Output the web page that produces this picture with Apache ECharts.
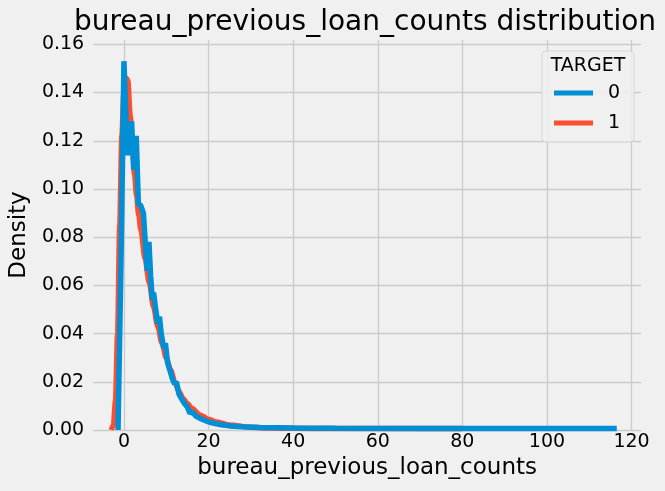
<!DOCTYPE html>
<html>
<head>
<meta charset="utf-8">
<script src="https://cdn.jsdelivr.net/npm/echarts@6/dist/echarts.min.js"></script>
<style>
  html, body { margin: 0; padding: 0; background: #f0f0f0; }
  #chart { width: 665px; height: 491px; }
</style>
</head>
<body>
<div id="chart"></div>
<script>
const xTicks = [0, 20, 40, 60, 80, 100, 120];
const yTicks = [0, 0.02, 0.04, 0.06, 0.08, 0.1, 0.12, 0.14, 0.16];

// TARGET = 0 (narrow bandwidth, jagged)
const blueX = [-1.4, -0.7, 0, 0.8, 1.8, 2.3, 2.9, 3.4, 4.0, 4.6, 5.1, 5.5, 5.9, 6.3, 6.7, 7.0, 7.5, 8.0, 8.4, 8.8,
  9.4, 9.8, 10.3, 11.0, 11.5, 12.0, 12.4, 13.0, 13.6, 14.3, 15.0, 15.6, 16.2, 17.0, 18.0, 19.5, 21.0, 23.0, 25.0,
  28.0, 32.0, 40, 50, 70, 90, 116.5];
const blueY = [0, 0.07, 0.153, 0.114, 0.128, 0.108, 0.122, 0.094, 0.093, 0.090, 0.076, 0.066, 0.078, 0.064, 0.054,
  0.057, 0.050, 0.044, 0.047, 0.040, 0.034, 0.036, 0.028, 0.024, 0.021, 0.019, 0.020, 0.015, 0.013, 0.011, 0.0095,
  0.0070, 0.0075, 0.0058, 0.0048, 0.0037, 0.0029, 0.0022, 0.0017, 0.0013, 0.0010, 0.0008, 0.0007, 0.0006, 0.0006, 0.0006];

// TARGET = 1 (smooth)
const redX = [-3.0, -2.5, -2.0, -1.5, -1.0, -0.5, 0.0, 0.5, 0.9, 1.5, 2.0, 2.5, 3.0, 3.5, 4.0, 5.0, 6.0, 7.0, 8.0,
  9.0, 10, 11, 12, 13, 14, 15, 16, 18, 20, 22, 25, 30, 35, 40, 50, 60, 70, 80];
const redY = [0, 0.002, 0.012, 0.04, 0.085, 0.122, 0.140, 0.146, 0.145, 0.130, 0.118, 0.106, 0.097, 0.089, 0.083,
  0.071, 0.061, 0.051, 0.043, 0.036, 0.030, 0.025, 0.020, 0.016, 0.013, 0.011, 0.009, 0.0062, 0.0045, 0.0033,
  0.0021, 0.0011, 0.0008, 0.0007, 0.0006, 0.0006, 0.0006, 0.0006];

const font = 'DejaVu Sans';
const pairs = (xs, ys) => xs.map((x, i) => [x, ys[i]]);

const chart = echarts.init(document.getElementById('chart'));
chart.setOption({
  backgroundColor: '#f0f0f0',
  animation: false,
  textStyle: { fontFamily: font, color: '#000' },
  grid: { left: 89, right: 24, top: 40, bottom: 61 },
  xAxis: {
    type: 'value',
    min: -7.27,
    max: 122.23,
    name: 'bureau_previous_loan_counts',
    nameLocation: 'middle',
    nameGap: 27,
    nameTextStyle: { fontSize: 23, fontFamily: font, color: '#000' },
    axisLine: { show: false },
    axisTick: { show: false, customValues: xTicks },
    axisLabel: { customValues: xTicks, fontSize: 19, margin: 3, color: '#000', fontFamily: font },
    splitLine: { show: true, lineStyle: { color: '#cbcbcb', width: 1.3 } }
  },
  yAxis: {
    type: 'value',
    min: 0,
    max: 0.1618,
    name: 'Density',
    nameLocation: 'middle',
    nameGap: 50,
    nameTextStyle: { fontSize: 23, fontFamily: font, color: '#000' },
    axisLine: { show: false },
    axisTick: { show: false, customValues: yTicks },
    axisLabel: {
      customValues: yTicks, fontSize: 19, margin: 9, color: '#000', fontFamily: font,
      formatter: v => v.toFixed(2)
    },
    splitLine: { show: true, lineStyle: { color: '#cbcbcb', width: 1.3 } }
  },
  legend: {
    data: ['0', '1'],
    orient: 'vertical',
    left: 554,
    top: 83,
    padding: 0,
    itemGap: 10,
    itemWidth: 39,
    itemHeight: 5,
    icon: 'rect',
    textStyle: { fontSize: 19, fontFamily: font, color: '#000', lineHeight: 20, padding: [0, 0, 0, 10] }
  },
  graphic: [
    {
      type: 'text', x: 365, y: 23, z: 5,
      style: { text: 'bureau_previous_loan_counts distribution', fontSize: 28, fontFamily: font,
        fill: '#000', align: 'center', verticalAlign: 'middle' }
    },
    {
      type: 'rect', z: 3,
      shape: { x: 542, y: 51, width: 92, height: 91, r: 4 },
      style: { fill: 'rgba(240,240,240,0.85)', stroke: '#d6d6d6', lineWidth: 1 }
    },
    {
      type: 'text', x: 588, y: 66, z: 5,
      style: { text: 'TARGET', fontSize: 19, fontFamily: font, fill: '#000', align: 'center', verticalAlign: 'middle' }
    }
  ],
  series: [
    {
      name: '1',
      type: 'line',
      data: pairs(redX, redY),
      showSymbol: false,
      smooth: 0.3,
      smoothMonotone: 'x',
      color: '#fc4f30',
      lineStyle: { width: 5.5, color: '#fc4f30' }
    },
    {
      name: '0',
      type: 'line',
      data: pairs(blueX, blueY),
      showSymbol: false,
      color: '#008fd5',
      lineStyle: { width: 5.5, color: '#008fd5' }
    }
  ]
});
</script>
</body>
</html>
